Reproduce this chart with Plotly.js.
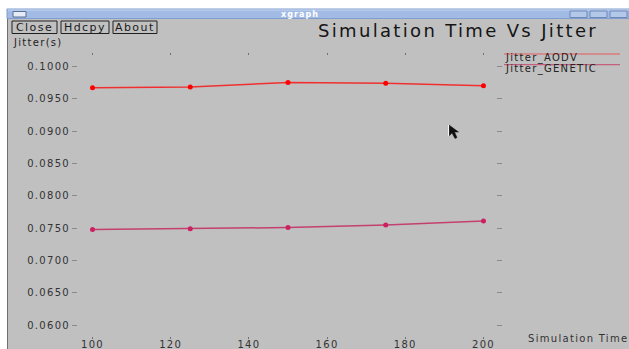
<!DOCTYPE html>
<html>
<head>
<meta charset="utf-8">
<script src="https://cdn.plot.ly/plotly-3.0.1.min.js"></script>
<style>
  html, body { margin: 0; padding: 0; background: #ffffff; }
  #chart { width: 629px; height: 349px; }
  text { letter-spacing: 0.13em; }
</style>
</head>
<body>
<div id="chart"></div>
<script>
// ---- data ----
const simTime = [100, 125, 150, 175, 200];
const jitterAODV = [0.0967, 0.0968, 0.0975, 0.0974, 0.0970];
const jitterGENETIC = [0.0748, 0.0749, 0.0751, 0.0755, 0.0761];
const seriesNames = ["Jitter_AODV", "Jitter_GENETIC"];
const xTickVals = [100, 120, 140, 160, 180, 200];
const yTickVals = [0.06, 0.065, 0.07, 0.075, 0.08, 0.085, 0.09, 0.095, 0.10];

// ---- layout geometry (pixels) ----
const W = 629, H = 349, L = 78, R = 496, T = 56, B = 336;
const px = x => (x - L) / (R - L);
const py = y => (B - y) / (B - T);
const FONT = "DejaVu Sans, Liberation Sans, sans-serif";
const cAODV = "#f03030", cGEN = "#c4406e";

function rect(x0, y0, x1, y1, fill, line, lw) {
  return {type: "rect", xref: "paper", yref: "paper", layer: "above",
    x0: px(x0), x1: px(x1), y0: py(y1), y1: py(y0),
    fillcolor: fill, line: {color: line || fill, width: lw === undefined ? 0 : lw}};
}
function seg(x0, y0, x1, y1, color, lw) {
  return {type: "line", xref: "paper", yref: "paper", layer: "above",
    x0: px(x0), x1: px(x1), y0: py(y0), y1: py(y1), line: {color: color, width: lw}};
}
function label(text, x, y, size, color, xanchor, extra) {
  return Object.assign({text: text, xref: "paper", yref: "paper", x: px(x), y: py(y),
    xanchor: xanchor || "left", yanchor: "middle", showarrow: false,
    font: {family: FONT, size: size, color: color}, borderpad: 0}, extra || {});
}

const shapes = [
  // white surroundings + window frame
  rect(0, 0, W, 9, "#ffffff"),
  rect(0, 0, 7, H, "#ffffff"),
  seg(7.5, 9, 7.5, H, "#707070", 1),
  // title bar
  rect(7, 9, W, 18.5, "#a2bbe5", "#7f9dcf", 1),
  seg(8, 10, W, 10, "#c8d7ef", 1),
  // icon at left of title bar
  rect(13, 11.5, 26, 17, "#e6ecf6", "#5a6f96", 1),
  // window buttons at right
  rect(570, 11, 587, 17.5, "#b4c8ea", "#6f88b8", 1),
  rect(590, 11, 607, 17.5, "#b4c8ea", "#6f88b8", 1),
  rect(610, 11, 627, 17.5, "#b4c8ea", "#6f88b8", 1),
  // toolbar buttons
  rect(12, 21, 57, 33.5, "#c0c0c0", "#202020", 1),
  rect(61, 21, 109, 33.5, "#c0c0c0", "#202020", 1),
  rect(113, 21, 157, 33.5, "#c0c0c0", "#202020", 1),
  // legend lines
  seg(504, 54, 620, 54, "#e85a5a", 1.2),
  seg(504, 64.7, 620, 64.7, "#c4607e", 1.2),
  // mouse cursor
  {type: "path", xref: "paper", yref: "paper", layer: "above",
    path: "M " + px(449) + "," + py(125) + " L " + px(449) + "," + py(136) + " L " + px(452) + "," + py(133) +
          " L " + px(455) + "," + py(138.5) + " L " + px(457) + "," + py(137.5) + " L " + px(454.5) + "," + py(132) +
          " L " + px(458.5) + "," + py(132) + " Z",
    fillcolor: "#101010", line: {color: "#101010", width: 0.5}},
  seg(448.6, 125, 448.6, 136, "#ffffff", 1)
];

const annotations = [
  label("<b>xgraph</b>", 300, 14, 8, "#ffffff", "center"),
  label("Close", 34.5, 27.5, 11, "#1a1a1a", "center"),
  label("Hdcpy", 85, 27.5, 11, "#1a1a1a", "center"),
  label("About", 135, 27.5, 11, "#1a1a1a", "center"),
  label("Jitter(s)", 12, 42.5, 10, "#222222", "left"),
  label(seriesNames[0], 504, 58.5, 10, "#222222", "left"),
  label(seriesNames[1], 504, 69, 10, "#222222", "left"),
  label("Simulation Time", 527, 338.5, 10, "#333333", "left")
];

const traces = [
  {x: simTime, y: jitterAODV, name: seriesNames[0], type: "scatter", mode: "lines+markers",
   line: {color: cAODV, width: 1.5}, marker: {color: "#ff0000", size: 5}},
  {x: simTime, y: jitterGENETIC, name: seriesNames[1], type: "scatter", mode: "lines+markers",
   line: {color: cGEN, width: 1.5}, marker: {color: "#cc2060", size: 5}}
];

const layout = {
  width: W, height: H,
  margin: {l: L, r: W - R, t: T, b: H - B, pad: 0},
  paper_bgcolor: "#c0c0c0", plot_bgcolor: "#c0c0c0",
  showlegend: false,
  title: {text: "Simulation Time Vs Jitter", font: {family: FONT, size: 18, color: "#151515"},
          xref: "container", yref: "container", x: 458 / W, xanchor: "center", y: 1 - 31 / H, yanchor: "middle"},
  xaxis: {range: [96.29, 203.2], tickvals: xTickVals, ticktext: xTickVals.map(String),
          showgrid: false, zeroline: false, showline: false,
          ticks: "outside", ticklen: 2, tickwidth: 1, tickcolor: "#707070", mirror: "ticks",
          ticklabelstandoff: -3,
          tickfont: {family: FONT, size: 10, color: "#333333"}},
  yaxis: {range: [0.05835, 0.10159], tickvals: yTickVals, ticktext: yTickVals.map(v => v.toFixed(4)),
          showgrid: false, zeroline: false, showline: false,
          ticks: "outside", ticklen: 5, tickwidth: 1, tickcolor: "#8a8a8a", mirror: "ticks",
          tickfont: {family: FONT, size: 10, color: "#333333"}},
  shapes: shapes,
  annotations: annotations
};

Plotly.newPlot("chart", traces, layout, {displayModeBar: false, staticPlot: true});
</script>
</body>
</html>
